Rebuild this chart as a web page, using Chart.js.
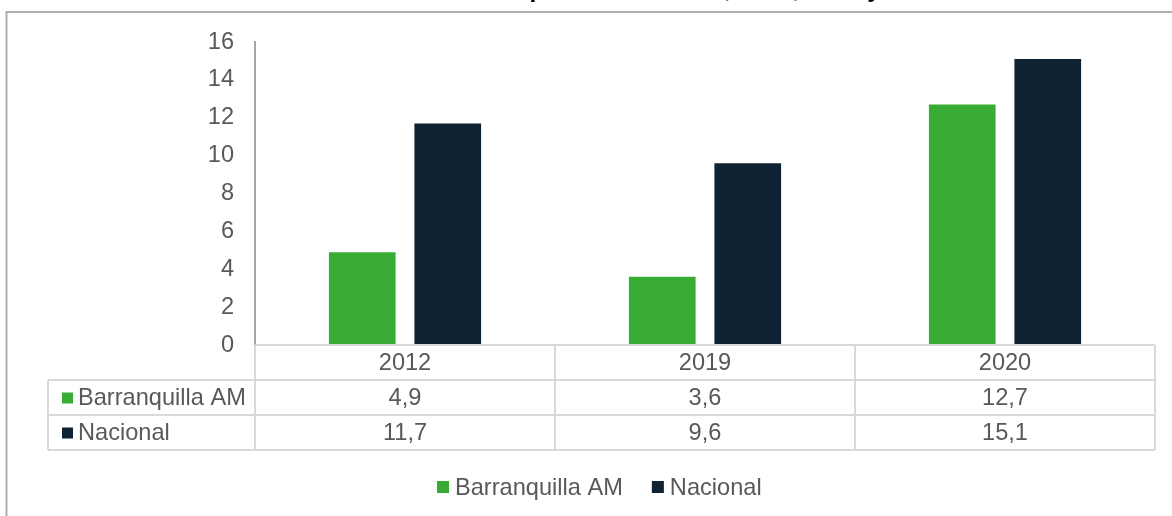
<!DOCTYPE html>
<html>
<head>
<meta charset="utf-8">
<script src="https://cdn.jsdelivr.net/npm/chart.js@4/dist/chart.umd.min.js"></script>
<style>
  html, body { margin: 0; padding: 0; background: #ffffff; }
  #wrap { width: 1172px; height: 516px; position: relative; }
</style>
</head>
<body>
<div id="wrap"><canvas id="chart" width="1172" height="516"></canvas></div>
<script>
// data
const years = ['2012', '2019', '2020'];
const barranquilla = [4.9, 3.6, 12.7];
const nacional = [11.7, 9.6, 15.1];
const seriesNames = ['Barranquilla AM', 'Nacional'];
const seriesColors = ['#38ab35', '#0e2233'];
const yTicks = [0, 2, 4, 6, 8, 10, 12, 14, 16];
const titleText = 'Gráfico 3. Incidencia de pobreza extrema, 2012, 2019 y 2020';

const textGray = '#595959';
const cellLine = '#d9d9d9';
const fontFam = '"Liberation Sans", Arial, sans-serif';
const fontSize = 23.6;

// frame, clipped title, data table and legend
const extras = {
  id: 'extras',
  beforeDraw(chart) {
    const ctx = chart.ctx;
    ctx.save();
    ctx.fillStyle = '#ffffff';
    ctx.fillRect(0, 0, chart.width, chart.height);
    // title sits above the frame and is cut by the top edge
    ctx.fillStyle = '#000000';
    ctx.font = 'bold 24.5px ' + fontFam;
    ctx.textAlign = 'center';
    ctx.textBaseline = 'alphabetic';
    ctx.fillText(titleText, 595, -3);
    // frame
    ctx.strokeStyle = '#afafaf';
    ctx.lineWidth = 2;
    ctx.beginPath();
    ctx.moveTo(6.5, chart.height);
    ctx.lineTo(6.5, 12);
    ctx.lineTo(chart.width, 12);
    ctx.stroke();
    ctx.restore();
  },
  afterDraw(chart) {
    const ctx = chart.ctx;
    const x = chart.scales.x;
    const area = chart.chartArea;
    const rowH = 35;
    const top = area.bottom;
    const tableLeft = 48;
    const colEdges = [area.left];
    years.forEach((y, i) => {
      const c = x.getPixelForValue(i);
      colEdges.push(i < years.length - 1 ? (c + x.getPixelForValue(i + 1)) / 2 : area.right);
    });

    ctx.save();
    ctx.strokeStyle = cellLine;
    ctx.lineWidth = 2;
    ctx.beginPath();
    // horizontal lines
    ctx.moveTo(area.left, top); ctx.lineTo(area.right, top);
    for (let r = 1; r <= 3; r++) {
      ctx.moveTo(tableLeft, top + r * rowH); ctx.lineTo(area.right, top + r * rowH);
    }
    // vertical lines
    ctx.moveTo(tableLeft, top + rowH); ctx.lineTo(tableLeft, top + 3 * rowH);
    colEdges.forEach(e => { ctx.moveTo(e, top); ctx.lineTo(e, top + 3 * rowH); });
    ctx.stroke();

    ctx.font = fontSize + 'px ' + fontFam;
    ctx.fillStyle = textGray;
    ctx.textAlign = 'center';
    ctx.textBaseline = 'middle';
    years.forEach((y, i) => {
      ctx.fillText(y, x.getPixelForValue(i), top + rowH / 2 + 1);
    });

    const rows = [barranquilla, nacional];
    rows.forEach((vals, r) => {
      const cy = top + rowH * (r + 1) + rowH / 2 + 1;
      ctx.fillStyle = seriesColors[r];
      ctx.fillRect(62, cy - 6, 11, 11);
      ctx.fillStyle = textGray;
      ctx.textAlign = 'left';
      ctx.fillText(seriesNames[r], 78, cy);
      ctx.textAlign = 'center';
      vals.forEach((v, i) => {
        ctx.fillText(v.toFixed(1).replace('.', ','), x.getPixelForValue(i), cy);
      });
    });

    // legend below the table
    const ly = 487;
    let lx = 437;
    seriesNames.forEach((name, i) => {
      ctx.fillStyle = seriesColors[i];
      ctx.fillRect(lx, ly - 6, 12, 12);
      ctx.fillStyle = textGray;
      ctx.textAlign = 'left';
      ctx.fillText(name, lx + 18, ly + 1);
      lx += 18 + ctx.measureText(name).width + 29;
    });
    ctx.restore();
  }
};

new Chart(document.getElementById('chart'), {
  type: 'bar',
  data: {
    labels: years,
    datasets: [
      { label: seriesNames[0], data: barranquilla, backgroundColor: seriesColors[0] },
      { label: seriesNames[1], data: nacional, backgroundColor: seriesColors[1] }
    ]
  },
  options: {
    responsive: false,
    animation: false,
    layout: { padding: { top: 42, right: 17, bottom: 171, left: 0 } },
    datasets: { bar: { categoryPercentage: 0.57, barPercentage: 0.78 } },
    plugins: { legend: { display: false }, tooltip: { enabled: false }, title: { display: false } },
    scales: {
      x: { display: false },
      y: {
        min: 0,
        max: 16,
        afterFit(scale) { scale.width = 255; },
        afterBuildTicks(scale) { scale.ticks = yTicks.map(v => ({ value: v })); },
        grid: { display: false, drawTicks: false },
        border: { display: true, color: '#a6a6a6', width: 2 },
        ticks: {
          padding: 21,
          color: textGray,
          font: { family: fontFam, size: fontSize }
        }
      }
    }
  },
  plugins: [extras]
});
</script>
</body>
</html>
